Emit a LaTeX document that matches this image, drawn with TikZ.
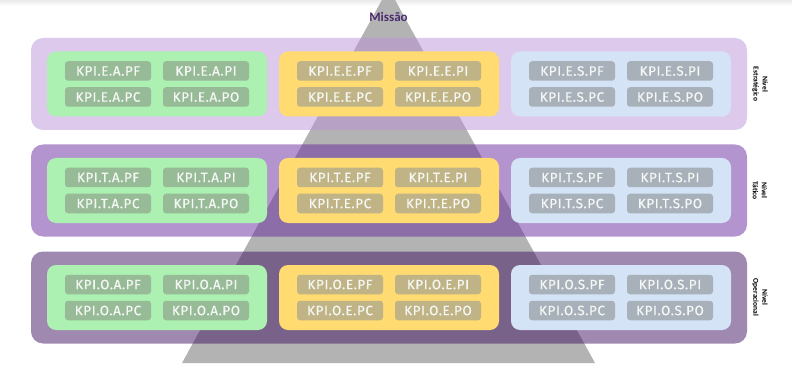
\documentclass[tikz,border=0pt]{standalone}
\usepackage{fontspec}
\setmainfont{Carlito}
\newfontfamily\kpifont[LetterSpace=4,FakeBold=0.4]{Fira Sans}
\usetikzlibrary{positioning}

% 颜色
\definecolor{piramide}{RGB}{179,179,179}
\definecolor{missao}{RGB}{74,42,110}
\definecolor{faixaE}{RGB}{187,147,217}
\definecolor{faixaT}{RGB}{103,41,157}
\definecolor{faixaO}{RGB}{65,19,97}
\definecolor{caixaA}{RGB}{172,240,178}
\definecolor{caixaE}{RGB}{255,219,114}
\definecolor{caixaS}{RGB}{212,228,246}
\definecolor{kpiA}{RGB}{151,186,151}
\definecolor{kpiE}{RGB}{192,179,133}
\definecolor{kpiS}{RGB}{168,176,186}
\definecolor{kpitexto}{RGB}{244,247,244}

\begin{document}
\begin{tikzpicture}[x=1pt,y=-1pt,
    faixa/.style={rounded corners=12pt, minimum width=716pt, minimum height=92pt,
        inner sep=0pt, fill opacity=0.5},
    caixa/.style={rounded corners=9pt, minimum width=220pt, minimum height=65pt, inner sep=0pt},
    kpi/.style={rounded corners=3pt, minimum width=86pt, minimum height=19.5pt, inner sep=0pt,
        text=kpitexto, font=\kpifont\fontsize{13.5}{14}\selectfont},
    nivel/.style={rotate=-90, align=center, font=\bfseries\fontsize{7.5}{9}\selectfont}]

    % 画布与顶部阴影
    \clip (0,0) rectangle (792,366);
    \shade[top color=black!8, bottom color=white] (0,0) rectangle (792,6);

    % 金字塔
    \coordinate (topo) at (388.5,-12);
    \fill[piramide] (topo) -- (182,363) -- (595,363) -- cycle;
    \node[text=missao, font=\bfseries\fontsize{13}{14}\selectfont] (missao) at (388.5,17) {Missão};

    % 三个层级
    \foreach \nv/\cy/\nome in {E/84/Estratégico, T/190.5/Tático, O/297.5/Operacional}{
        \node[faixa, fill=faixa\nv] (faixa-\nv) at (389,\cy) {};
        \node[nivel] (nivel-\nv) at (760,\cy) {Nível\\\nome};
        % 每层三个区块
        \foreach \ar/\cx in {A/157, E/389, S/621}{
            \node[caixa, fill=caixa\ar] (caixa-\nv-\ar) at (\cx,\cy) {};
            \foreach \kp/\dx/\dy in {PF/-49/-13, PI/49/-13, PC/-49/13, PO/49/13}
                \node[kpi, fill=kpi\ar] (kpi-\nv-\ar-\kp) at (\cx+\dx,\cy+\dy) {KPI.\nv.\ar.\kp};
        }
    }
\end{tikzpicture}
\end{document}
